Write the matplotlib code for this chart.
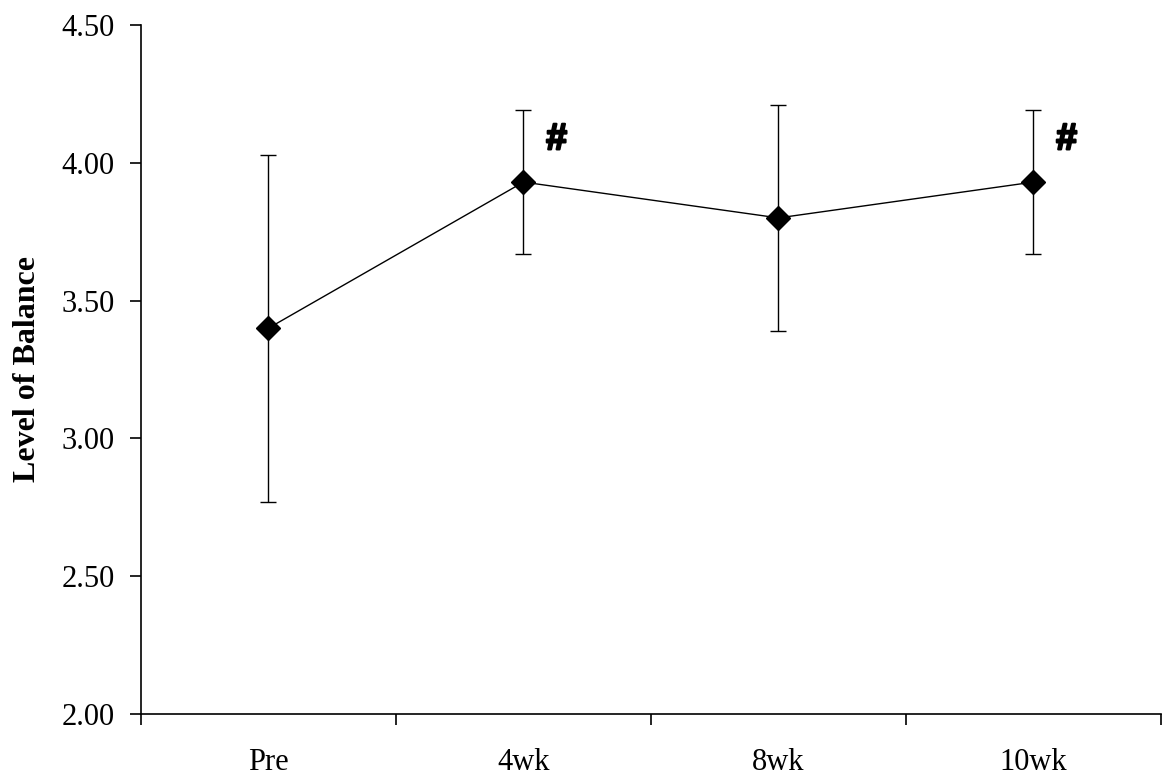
import numpy as np
import matplotlib
matplotlib.use("Agg")
import matplotlib.pyplot as plt
import matplotlib.patheffects as pe

# balance scores at each assessment (mean ± SD)
timepoints = ["Pre", "4wk", "8wk", "10wk"]
means = [3.40, 3.93, 3.80, 3.93]
sds = [0.63, 0.26, 0.41, 0.26]
significant = [False, True, False, True]

plt.rcParams["font.family"] = ["Liberation Serif", "DejaVu Serif"]

fig = plt.figure(figsize=(11.64, 7.76), dpi=100)
ax = fig.add_axes([0.1211, 0.0799, 0.8763, 0.8879])

x = np.arange(len(timepoints))
ax.errorbar(x, means, yerr=sds, color="black", lw=1.0, elinewidth=1.0,
            capsize=6, capthick=1.0, marker="D", markersize=12.5,
            markerfacecolor="black", markeredgecolor="black")

# significance markers
for xi, m, sig in zip(x, means, significant):
    if sig:
        ax.text(xi + 0.13, m + 0.155, "#", fontsize=27, fontweight="bold",
                family=["Liberation Sans", "DejaVu Sans"],
                ha="center", va="center",
                path_effects=[pe.withStroke(linewidth=1.6, foreground="black")])

ax.set_xlim(-0.5, len(timepoints) - 0.5)
ax.set_ylim(2.0, 4.5)
yticks = np.arange(2.0, 4.51, 0.5)
ax.set_yticks(yticks)
ax.set_yticklabels([f"{v:.2f}" for v in yticks])
ax.set_xticks(x)
ax.set_xticklabels(timepoints)
ax.set_xticks(np.arange(-0.5, len(timepoints)), minor=True)

ax.tick_params(axis="y", direction="out", length=8, width=1.2,
               labelsize=22, pad=11)
ax.tick_params(axis="x", which="major", length=0, labelsize=22, pad=24.5)
ax.tick_params(axis="x", which="minor", direction="out", length=8, width=1.2)

for side in ["top", "right"]:
    ax.spines[side].set_visible(False)
for side in ["left", "bottom"]:
    ax.spines[side].set_linewidth(1.2)

ax.set_ylabel("Level of Balance", fontsize=23, fontweight="bold", labelpad=14)

fig.savefig("out.png", dpi=100)
